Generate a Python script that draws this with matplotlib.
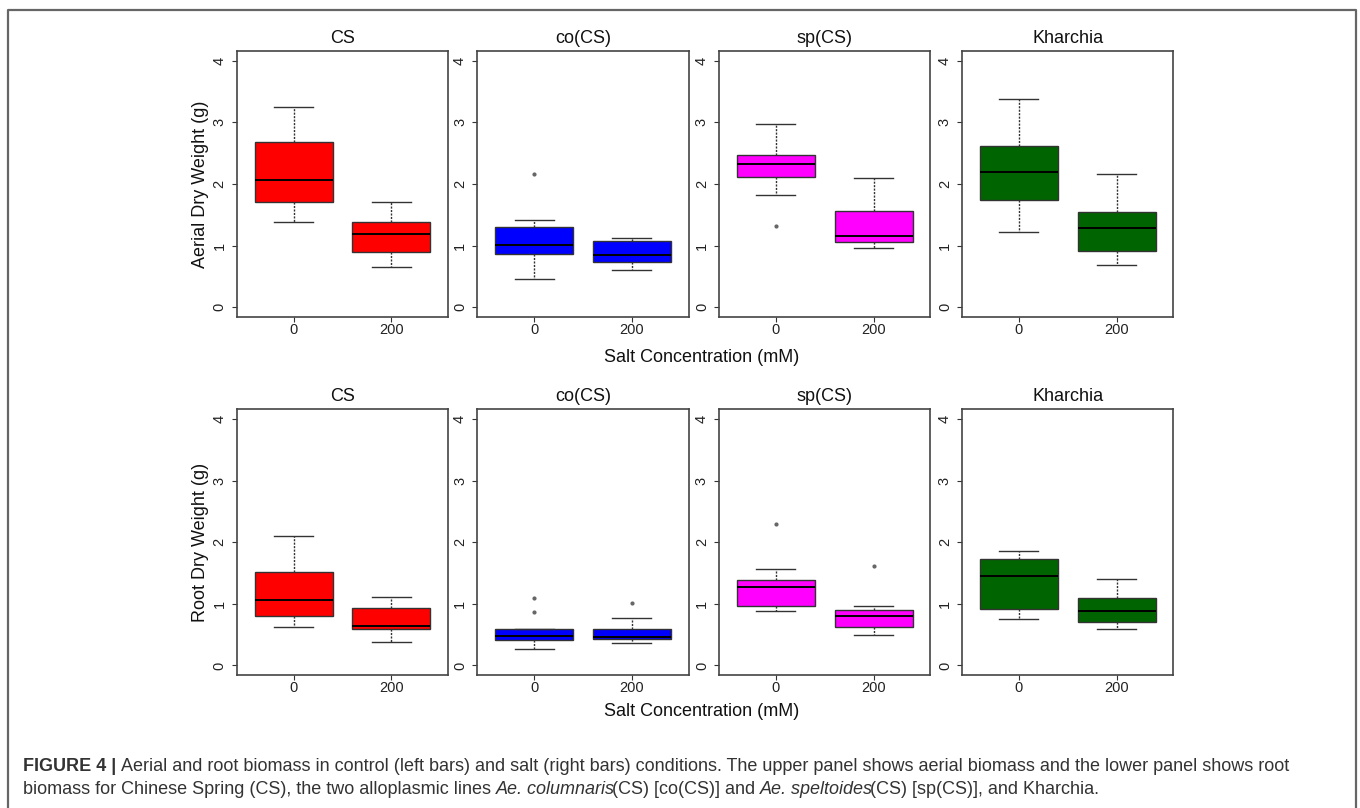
import matplotlib
matplotlib.use('Agg')
import matplotlib.pyplot as plt
from matplotlib.lines import Line2D

plt.rcParams['font.family'] = ['Liberation Sans', 'DejaVu Sans']

# lines and their box colours
groups = ['CS', 'co(CS)', 'sp(CS)', 'Kharchia']
group_colors = ['#ff0000', '#0000ff', '#ff00ff', '#006400']
salt_levels = ['0', '200']

# aerial dry weight (g): [control, salt] per line
aerial_whislo = [[1.39, 0.65], [0.46, 0.61], [1.82, 0.96], [1.22, 0.68]]
aerial_q1 = [[1.71, 0.89], [0.865, 0.74], [2.12, 1.06], [1.74, 0.92]]
aerial_med = [[2.06, 1.18], [1.01, 0.84], [2.32, 1.15], [2.19, 1.28]]
aerial_q3 = [[2.68, 1.39], [1.30, 1.076], [2.47, 1.56], [2.62, 1.54]]
aerial_whishi = [[3.25, 1.71], [1.41, 1.13], [2.98, 2.10], [3.38, 2.17]]
aerial_fliers = [[[], []], [[2.17], []], [[1.31], []], [[], []]]

# root dry weight (g)
root_whislo = [[0.63, 0.385], [0.26, 0.36], [0.89, 0.49], [0.75, 0.585]]
root_q1 = [[0.80, 0.585], [0.42, 0.435], [0.97, 0.62], [0.915, 0.705]]
root_med = [[1.06, 0.645], [0.48, 0.47], [1.28, 0.80], [1.45, 0.88]]
root_q3 = [[1.52, 0.94], [0.585, 0.60], [1.39, 0.905], [1.73, 1.09]]
root_whishi = [[2.11, 1.105], [0.60, 0.765], [1.56, 0.97], [1.865, 1.40]]
root_fliers = [[[], []], [[0.87, 1.09], [1.02]], [[2.29], [1.62]], [[], []]]

y_ticks = [0, 1, 2, 3, 4]

W, H = 1360, 808
fig = plt.figure(figsize=(W / 100, H / 100), dpi=100)


def px_axes(left, top, width, height):
    return fig.add_axes([left / W, 1 - (top + height) / H, width / W, height / H])


def make_stats(lo, q1, med, q3, hi, fl, i):
    return [dict(whislo=lo[i][j], q1=q1[i][j], med=med[i][j], q3=q3[i][j],
                 whishi=hi[i][j], fliers=fl[i][j]) for j in range(len(salt_levels))]


def draw_row(top, lo, q1, med, q3, hi, fl, ylabel):
    lefts = [237, 477.5, 719.3, 962.3]
    for i, name in enumerate(groups):
        ax = px_axes(lefts[i], top, 211, 266)
        ax.bxp(make_stats(lo, q1, med, q3, hi, fl, i), positions=[1, 2], widths=0.8,
               patch_artist=True,
               boxprops=dict(facecolor=group_colors[i], edgecolor='#333333', linewidth=1),
               medianprops=dict(color='black', linewidth=1.4),
               whiskerprops=dict(color='#333333', linewidth=1.0, linestyle=(0, (1.5, 1))),
               capprops=dict(color='#333333', linewidth=1),
               flierprops=dict(marker='o', markersize=2, markerfacecolor='#666666',
                               markeredgecolor='#666666'))
        ax.set_xlim(0.42, 2.58)
        ax.set_ylim(-0.16, 4.16)
        ax.set_xticks([1, 2])
        ax.set_xticklabels(salt_levels)
        ax.set_yticks(y_ticks)
        ax.set_yticklabels([str(t) for t in y_ticks], rotation=90, va='center')
        ax.tick_params(axis='both', direction='out', length=3.5, width=0.8,
                       color='#333333', labelsize=10.5, labelcolor='#222222')
        ax.tick_params(axis='x', pad=0.5)
        ax.tick_params(axis='y', pad=4)
        for s in ax.spines.values():
            s.set_color('#444444')
            s.set_linewidth(1.2)
        ax.set_title(name, fontsize=13, pad=6, color='#111111')
    fig.text(200.7 / W, 1 - (top + 133) / H, ylabel, rotation=90, ha='center',
             va='center', fontsize=13, color='#111111')


draw_row(51, aerial_whislo, aerial_q1, aerial_med, aerial_q3, aerial_whishi,
         aerial_fliers, 'Aerial Dry Weight (g)')
draw_row(409.3, root_whislo, root_q1, root_med, root_q3, root_whishi,
         root_fliers, 'Root Dry Weight (g)')

fig.text(702 / W, 1 - 357 / H, 'Salt Concentration (mM)', ha='center', va='center',
         fontsize=13, color='#111111')
fig.text(702 / W, 1 - 712 / H, 'Salt Concentration (mM)', ha='center', va='center',
         fontsize=13, color='#111111')

# frame around figure and caption
fx0, fx1, fy = 8 / W, 1356 / W, 1 - 10 / H
fig.add_artist(Line2D([fx0, fx0, fx1, fx1], [0, fy, fy, 0], transform=fig.transFigure,
                      color='#666666', linewidth=1.6))

# caption, written piece by piece so bold/italic runs line up
renderer = fig.canvas.get_renderer()
cap_size = 13
cap_color = '#333333'
caption_lines = [
    [('FIGURE 4 | ', 'bold', 'normal'),
     ('Aerial and root biomass in control (left bars) and salt (right bars) conditions. '
      'The upper panel shows aerial biomass and the lower panel shows root', 'normal', 'normal')],
    [('biomass for Chinese Spring (CS), the two alloplasmic lines ', 'normal', 'normal'),
     ('Ae. columnaris', 'normal', 'italic'),
     ('(CS) [co(CS)] and ', 'normal', 'normal'),
     ('Ae. speltoides', 'normal', 'italic'),
     ('(CS) [sp(CS)], and Kharchia.', 'normal', 'normal')],
]
baselines = [771, 794]
for line, base in zip(caption_lines, baselines):
    x = 23
    for txt, weight, style in line:
        t = fig.text(x / W, 1 - base / H, txt, fontsize=cap_size, fontweight=weight,
                     fontstyle=style, color=cap_color, ha='left', va='baseline')
        x += t.get_window_extent(renderer).width
        if style == 'italic':
            # italic bbox leaves a slant gap before the next run
            x -= 3

fig.savefig('out.png', dpi=100)
